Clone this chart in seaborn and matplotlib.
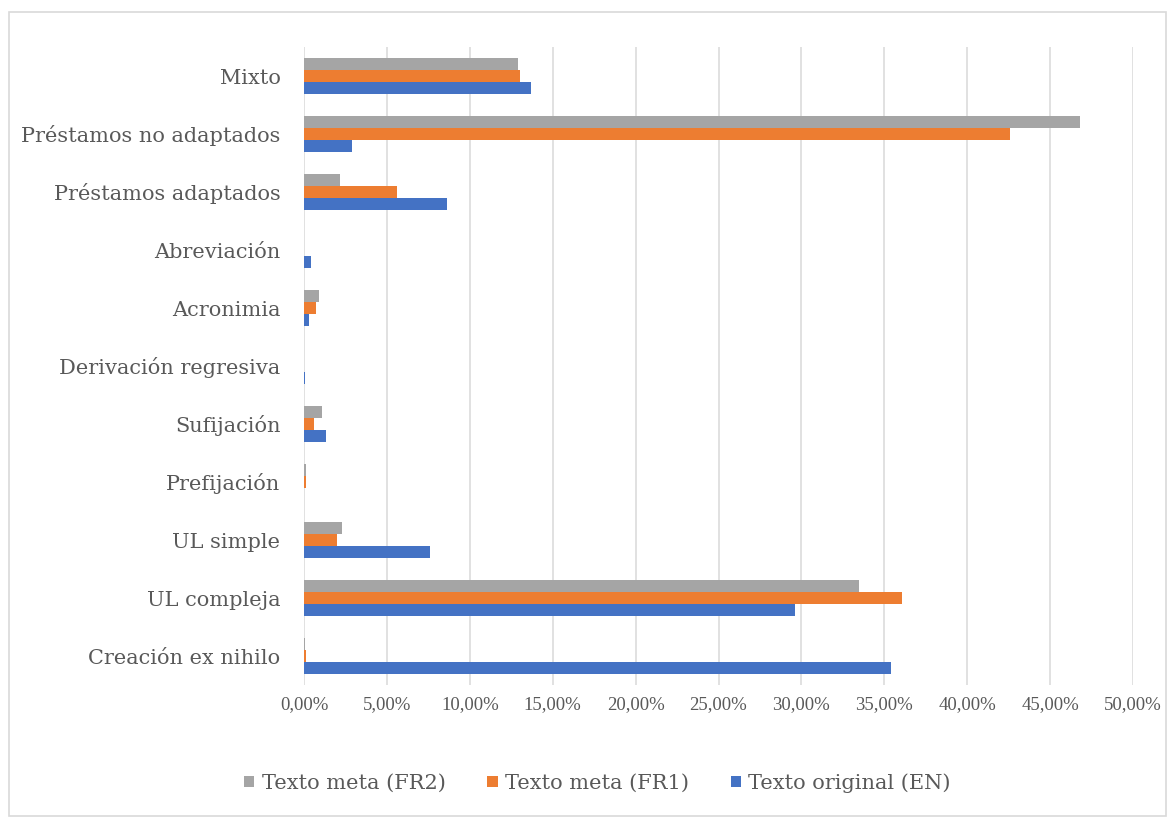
import matplotlib
matplotlib.use("Agg")
import matplotlib.pyplot as plt
from matplotlib.patches import Rectangle
from matplotlib.ticker import FuncFormatter
import seaborn as sns
import pandas as pd

categories = ["Mixto", "Préstamos no adaptados", "Préstamos adaptados", "Abreviación",
              "Acronimia", "Derivación regresiva", "Sufijación", "Prefijación",
              "UL simple", "UL compleja", "Creación ex nihilo"]
series = ["Texto meta (FR2)", "Texto meta (FR1)", "Texto original (EN)"]
fr2 = [12.9, 46.8, 2.2, 0.0, 0.9, 0.0, 1.1, 0.15, 2.3, 33.5, 0.05]
fr1 = [13.0, 42.6, 5.6, 0.0, 0.75, 0.0, 0.6, 0.1, 2.0, 36.05, 0.15]
en = [13.7, 2.9, 8.6, 0.4, 0.3, 0.05, 1.3, 0.0, 7.6, 29.6, 35.4]
colors = ["#A5A5A5", "#ED7D31", "#4472C4"]
xticks = [0, 5, 10, 15, 20, 25, 30, 35, 40, 45, 50]

rows = []
for s, vals in zip(series, [fr2, fr1, en]):
    for c, v in zip(categories, vals):
        rows.append({"categoria": c, "serie": s, "valor": v})
df = pd.DataFrame(rows)

sns.set_theme(style="white")
plt.rcParams["font.family"] = ["DejaVu Serif"]

W, H = 1169, 818
fig = plt.figure(figsize=(W / 100, H / 100), dpi=100)
left, right, top, bottom = 304, 1133, 47, 685
ax = fig.add_axes([left / W, 1 - bottom / H, (right - left) / W, (bottom - top) / H])

sns.barplot(data=df, x="valor", y="categoria", hue="serie", hue_order=series,
            order=categories, palette=colors, width=0.62, orient="h",
            saturation=1, ax=ax, linewidth=0)

ax.set_xlim(0, 50)
ax.set_xticks(xticks)
ax.xaxis.set_major_formatter(FuncFormatter(lambda v, p: f"{v:.2f}%".replace(".", ",")))
ax.set_xlabel("")
ax.set_ylabel("")
for sp in ax.spines.values():
    sp.set_visible(False)
ax.grid(axis="x", color="#D9D9D9", linewidth=1.1)
ax.grid(axis="y", visible=False)
ax.set_axisbelow(True)
ax.tick_params(axis="y", length=0, pad=17, labelsize=15, labelcolor="#595959")
ax.tick_params(axis="x", length=0, pad=8, labelcolor="#595959")
for lab in ax.get_xticklabels():
    lab.set_fontfamily(["Liberation Serif", "DejaVu Serif"])
    lab.set_fontsize(13.5)

handles, labels = ax.get_legend_handles_labels()
if ax.legend_ is not None:
    ax.legend_.remove()
fig.legend(handles, labels, loc="center", bbox_to_anchor=(0.511, 1 - 783 / H), ncol=3,
           frameon=False, fontsize=15, handlelength=0.5, handleheight=0.5,
           handletextpad=0.35, columnspacing=2.0, labelcolor="#595959")

fig.patches.append(Rectangle((9 / W, 1 - 816 / H), (1166 - 9) / W, (816 - 12) / H,
                             transform=fig.transFigure, fill=False,
                             edgecolor="#D9D9D9", linewidth=1.2))

fig.savefig("out.png", dpi=100)
